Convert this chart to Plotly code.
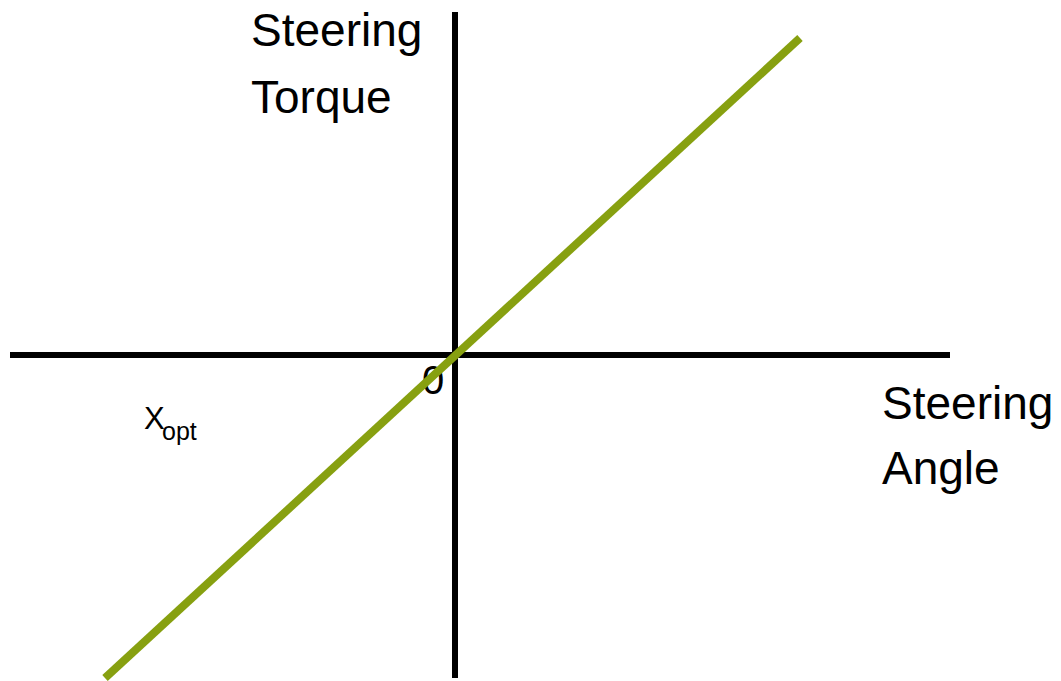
import plotly.graph_objects as go

# Characteristic line (steering angle vs steering torque), in chart units
angle = [-350, 345]
torque = [-323, 317]

# Axis extents
h_axis_x = [-445, 495]
h_axis_y = [0, 0]
v_axis_x = [0, 0]
v_axis_y = [-323, 343]

# Labels
label_texts = ["Steering", "Torque", "Steering", "Angle"]
label_x = [-204, -204, 427, 427]
label_y = [321, 254, -52, -117]
origin_text = ["0"]
origin_x = [-22]
origin_y = [-29]
x_text = ["X"]
x_x = [-311]
x_y = [-66]
opt_text = ["opt"]
opt_x = [-293]
opt_y = [-79]

FONT = "Liberation Sans"
fig = go.Figure()
fig.add_trace(go.Scatter(x=h_axis_x, y=h_axis_y, mode="lines",
                         line=dict(color="black", width=6), hoverinfo="skip"))
fig.add_trace(go.Scatter(x=v_axis_x, y=v_axis_y, mode="lines",
                         line=dict(color="black", width=6), hoverinfo="skip"))
fig.add_trace(go.Scatter(x=label_x, y=label_y, mode="text", text=label_texts,
                         textposition="middle right", cliponaxis=False,
                         textfont=dict(family=FONT, size=46, color="black")))
fig.add_trace(go.Scatter(x=origin_x, y=origin_y, mode="text", text=origin_text,
                         textposition="middle center",
                         textfont=dict(family=FONT, size=40, color="black")))
fig.add_trace(go.Scatter(x=x_x, y=x_y, mode="text", text=x_text,
                         textposition="middle right",
                         textfont=dict(family=FONT, size=31, color="black")))
fig.add_trace(go.Scatter(x=opt_x, y=opt_y, mode="text", text=opt_text,
                         textposition="middle right",
                         textfont=dict(family=FONT, size=25, color="black")))
fig.add_trace(go.Scatter(x=angle, y=torque, mode="lines",
                         line=dict(color="#87A010", width=8), hoverinfo="skip"))

fig.update_layout(
    width=1061, height=681,
    margin=dict(l=0, r=0, t=0, b=0),
    paper_bgcolor="white", plot_bgcolor="white",
    showlegend=False,
    xaxis=dict(range=[-447, 614], visible=False, fixedrange=True),
    yaxis=dict(range=[-334, 347], visible=False, fixedrange=True),
)
fig.write_html("out.html")
